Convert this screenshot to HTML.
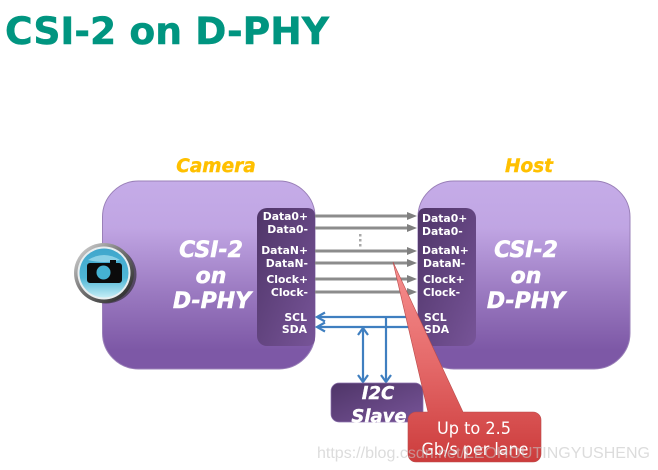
<!DOCTYPE html>
<html><head><meta charset="utf-8"><style>
html,body{margin:0;padding:0;background:#fff;width:658px;height:470px;overflow:hidden}
svg{display:block}
text{font-family:"DejaVu Sans","Liberation Sans",sans-serif}
.l{font-size:10.8px;font-weight:bold;fill:#fff}
.big{font-size:22px;font-weight:bold;font-style:italic;fill:#fff;text-anchor:middle;stroke:#fff;stroke-width:.5}
.hd{font-size:18.5px;font-weight:bold;font-style:italic;fill:#ffc000;text-anchor:middle;stroke:#ffc000;stroke-width:.4}
.g{stroke:#8c8c8c;stroke-width:3;fill:none}
.b{stroke:#3f7fc0;stroke-width:2.2;fill:none}
</style></head><body>
<svg width="658" height="470" viewBox="0 0 658 470" xmlns="http://www.w3.org/2000/svg">
<defs>
<linearGradient id="box" x1="0" y1="0" x2="0" y2="1">
<stop offset="0" stop-color="#c5ace8"/><stop offset=".25" stop-color="#c0a5e3"/><stop offset=".6" stop-color="#9a79c0"/><stop offset=".9" stop-color="#7d58a6"/><stop offset="1" stop-color="#7d58a6"/>
</linearGradient>
<linearGradient id="pan" x1="0" y1="0" x2="1" y2="1">
<stop offset="0" stop-color="#4f3568"/><stop offset="1" stop-color="#775498"/>
</linearGradient>
<linearGradient id="red" gradientUnits="userSpaceOnUse" x1="0" y1="262" x2="0" y2="462">
<stop offset="0" stop-color="#f78f8f"/><stop offset=".5" stop-color="#e56a6a"/><stop offset="1" stop-color="#cc3c3c"/>
</linearGradient>
<linearGradient id="ring" x1="0" y1="0" x2="1" y2="1">
<stop offset="0" stop-color="#e4e4e4"/><stop offset=".45" stop-color="#777"/><stop offset="1" stop-color="#1c1c1c"/>
</linearGradient>
<linearGradient id="glass" x1="0" y1="0" x2="0" y2="1">
<stop offset="0" stop-color="#3fa6cc"/><stop offset=".6" stop-color="#4fb6d6"/><stop offset="1" stop-color="#c4eef6"/>
</linearGradient>
</defs>

<text x="5" y="44" font-size="37" font-weight="bold" fill="#009580" stroke="#009580" stroke-width=".5" textLength="324" lengthAdjust="spacingAndGlyphs">CSI-2 on D-PHY</text>

<text x="216" y="172" class="hd">Camera</text>
<text x="529" y="172" class="hd">Host</text>

<rect x="102.5" y="181" width="212.5" height="188" rx="36" fill="url(#box)" stroke="#9a80b8" stroke-width="1"/>
<rect x="418" y="181" width="212" height="188" rx="36" fill="url(#box)" stroke="#9a80b8" stroke-width="1"/>

<path d="M315 216V338q0 8-8 8H267a10 10 0 0 1-10-10V218a10 10 0 0 1 10-10H307q8 0 8 8z" fill="url(#pan)"/>
<path d="M418 216q0-8 8-8H466a10 10 0 0 1 10 10V336a10 10 0 0 1-10 10H426q-8 0-8-8z" fill="url(#pan)"/>

<text x="211" y="257" class="big">CSI-2</text>
<text x="211" y="283" class="big">on</text>
<text x="212" y="308" class="big">D-PHY</text>
<text x="526" y="257" class="big">CSI-2</text>
<text x="526" y="283" class="big">on</text>
<text x="526" y="308" class="big">D-PHY</text>

<g text-anchor="end">
<text x="308" y="220" class="l">Data0+</text>
<text x="308" y="233" class="l">Data0-</text>
<text x="308" y="254" class="l">DataN+</text>
<text x="308" y="267" class="l">DataN-</text>
<text x="308" y="283" class="l">Clock+</text>
<text x="308" y="296" class="l">Clock-</text>
<text x="307" y="321" class="l">SCL</text>
<text x="307" y="333" class="l">SDA</text>
</g>
<g>
<text x="422" y="222" class="l">Data0+</text>
<text x="422" y="235" class="l">Data0-</text>
<text x="422" y="254" class="l">DataN+</text>
<text x="423" y="267" class="l">DataN-</text>
<text x="423" y="283" class="l">Clock+</text>
<text x="423" y="296" class="l">Clock-</text>
<text x="424" y="321" class="l">SCL</text>
<text x="424" y="333" class="l">SDA</text>
</g>

<g class="g">
<path d="M315 216H408"/><path d="M315 228H408"/><path d="M315 251H408"/><path d="M315 263H408"/><path d="M315 279H408"/><path d="M315 292H408"/>
</g>
<g fill="#808080">
<path d="M407 212L417 216L407 220z"/><path d="M407 224L417 228L407 232z"/><path d="M407 247L417 251L407 255z"/><path d="M407 259L417 263L407 267z"/><path d="M407 275L417 279L407 283z"/><path d="M407 288L417 292L407 296z"/>
</g>
<g fill="#a8a8a8"><rect x="359" y="234" width="2.5" height="2.5"/><rect x="359" y="239" width="2.5" height="2.5"/><rect x="359" y="244" width="2.5" height="2.5"/></g>

<g class="b">
<path d="M317 317H418"/><path d="M317 327H418"/>
<path d="M325 312.5L317 317L325 321.5"/><path d="M325 322.5L317 327L325 331.5"/>
<path d="M363 329V382"/><path d="M386 317V382"/>
<path d="M358 335L363 328L368 335"/>
<path d="M358 375L363 382L368 375"/><path d="M381 375L386 382L391 375"/>
</g>

<rect x="331" y="383" width="92" height="39" rx="8" fill="url(#pan)" stroke="#8c72ad" stroke-width=".7"/>
<text x="378" y="399" font-size="18" font-weight="bold" font-style="italic" fill="#fff" stroke="#fff" stroke-width=".4" text-anchor="middle">I2C</text>
<text x="379" y="422" font-size="18" font-weight="bold" font-style="italic" fill="#fff" stroke="#fff" stroke-width=".4" text-anchor="middle">Slave</text>

<path d="M393 262L463 412H533a8 8 0 0 1 8 8V454a8 8 0 0 1-8 8H416a8 8 0 0 1-8-8V420a8 8 0 0 1 8-8H428z" fill="url(#red)" stroke="#b94a4a" stroke-width=".6"/>
<text x="474" y="434" font-size="16.5" fill="#fff" text-anchor="middle" textLength="74" lengthAdjust="spacingAndGlyphs">Up to 2.5</text>
<text x="475" y="455" font-size="16.5" fill="#fff" text-anchor="middle" textLength="107" lengthAdjust="spacingAndGlyphs">Gb/s per lane</text>

<text x="317" y="458" font-size="16" fill="#c4c4c4" fill-opacity=".6" style="font-family:'Liberation Sans',sans-serif" textLength="333" lengthAdjust="spacingAndGlyphs">https://blog.csdn.net/LEOHOUTINGYUSHENG</text>

<ellipse cx="106" cy="274.5" rx="30.5" ry="29" fill="#222" opacity=".6"/>
<circle cx="104" cy="273" r="30" fill="url(#ring)"/>
<circle cx="104" cy="273" r="26.5" fill="#e8eef0"/>
<circle cx="104" cy="273" r="24.5" fill="url(#glass)"/>
<path d="M88 260q16-10 32 0q-16 4-32 0z" fill="#a8dff0" opacity=".7"/>
<path d="M90 263H110V260H116V263H119a3 3 0 0 1 3 3V280a3 3 0 0 1-3 3H90a3 3 0 0 1-3-3V266a3 3 0 0 1 3-3z" fill="#0b0b0b"/>
<circle cx="103.500" cy="272.500" r="7" fill="#45b2d2"/>
</svg>
</body></html>
